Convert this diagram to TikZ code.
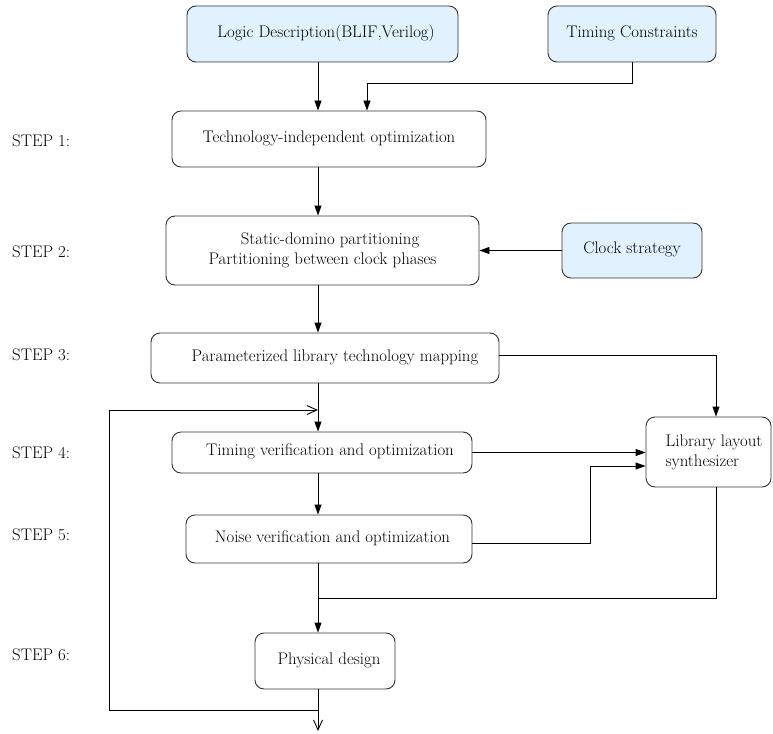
\documentclass[tikz,border=0pt]{standalone}
\usepackage{fontspec}
\usetikzlibrary{arrows.meta}
\definecolor{inputblue}{RGB}{225,241,253}
\begin{document}
\begin{tikzpicture}[x=1bp,y=-1bp,
  font=\rmfamily\fontsize{16.8bp}{20bp}\selectfont,
  flowbox/.style={draw=black!80, line width=0.9bp, rounded corners=9bp, inner sep=0pt},
  oneline/.style={text height=0.8em, text depth=0.14em},
  inbox/.style={flowbox, oneline, fill=inputblue},
  flow/.style={line width=0.9bp, -{Triangle[length=10bp,width=7bp]}},
  plain/.style={line width=0.9bp},
  openhead/.style={line width=0.9bp, -{Straight Barb[length=10bp,width=9bp]}},
  steplabel/.style={anchor=west, inner sep=0pt, oneline}
]
\useasboundingbox (0,0) rectangle (773,734);

% inputs
\node[inbox, minimum width=271bp, minimum height=56bp] (logic) at (322.5,34)
  {\hspace*{7bp}Logic Description(BLIF,Verilog)};
\node[inbox, minimum width=168bp, minimum height=56bp] (timing) at (632,34)
  {Timing Constraints};
\node[inbox, minimum width=140bp, minimum height=55bp] (clock) at (632,250.5)
  {Clock strategy};

% main flow
\node[flowbox, oneline, minimum width=314bp, minimum height=56bp] (s1) at (329,139)
  {Technology-independent optimization};
\node[flowbox, minimum width=313bp, minimum height=69bp] (s2) at (322.5,250.5)
  {\raisebox{-6.5bp}{\begin{tabular}{@{}c@{}}\hspace*{15bp}Static-domino partitioning\\Partitioning between clock phases\end{tabular}}};
\node[flowbox, oneline, minimum width=348bp, minimum height=50bp] (s3) at (325,358)
  {\hspace*{20bp}Parameterized library technology mapping};
\node[flowbox, oneline, minimum width=300bp, minimum height=41bp] (s4) at (322,452.5)
  {\hspace*{16bp}Timing verification and optimization};
\node[flowbox, oneline, minimum width=286bp, minimum height=48bp] (s5) at (329,539)
  {\hspace*{7bp}Noise verification and optimization};
\node[flowbox, oneline, minimum width=140bp, minimum height=56bp] (phys) at (325,661)
  {\hspace*{8bp}Physical design};
\node[flowbox, minimum width=125bp, minimum height=70bp] (lib) at (708.5,452)
  {\hspace*{11bp}\begin{tabular}{@{}l@{}}Library layout\\synthesizer\end{tabular}};

% step labels
\node[steplabel] (l1) at (12,143) {STEP 1:};
\node[steplabel] (l2) at (12,254) {STEP 2:};
\node[steplabel] (l3) at (12,357) {STEP 3:};
\node[steplabel] (l4) at (12,455) {STEP 4:};
\node[steplabel] (l5) at (12,537) {STEP 5:};
\node[steplabel] (l6) at (12,657) {STEP 6:};

% routing points
\coordinate (axis) at (318,0);
\coordinate (tc) at (367,83);
\coordinate (libx) at (716,0);
\coordinate (jog) at (590,466);
\coordinate (join) at (318,598);
\coordinate (split) at (318,710);
\coordinate (loopcorner) at (109,410);
\coordinate (merge) at (318,410);
\coordinate (exit) at (318,731);

% connectors
\draw[flow] (logic.south -| axis) -- (s1.north -| axis);
\draw[flow] (timing.south) |- (tc) -- (s1.north -| tc);
\draw[flow] (s1.south -| axis) -- (s2.north -| axis);
\draw[flow] (clock.west) -- (s2.east |- clock.west);
\draw[flow] (s2.south -| axis) -- (s3.north -| axis);
\draw[flow] ([yshift=3bp]s3.east) -| (lib.north -| libx);
\draw[flow] (s3.south -| axis) -- (s4.north -| axis);
\draw[flow] (s4.east) -- (s4.east -| lib.west);
\draw[flow] ([yshift=-4bp]s5.east) -| (jog) -- (jog -| lib.west);
\draw[flow] (s4.south -| axis) -- (s5.north -| axis);
\draw[flow] (s5.south -| axis) -- (phys.north -| axis);
\draw[plain] (lib.south -| libx) |- (join);
\draw[openhead] (split) -| (loopcorner) -- (merge);
\draw[openhead] (phys.south -| axis) -- (exit);
\end{tikzpicture}
\end{document}
